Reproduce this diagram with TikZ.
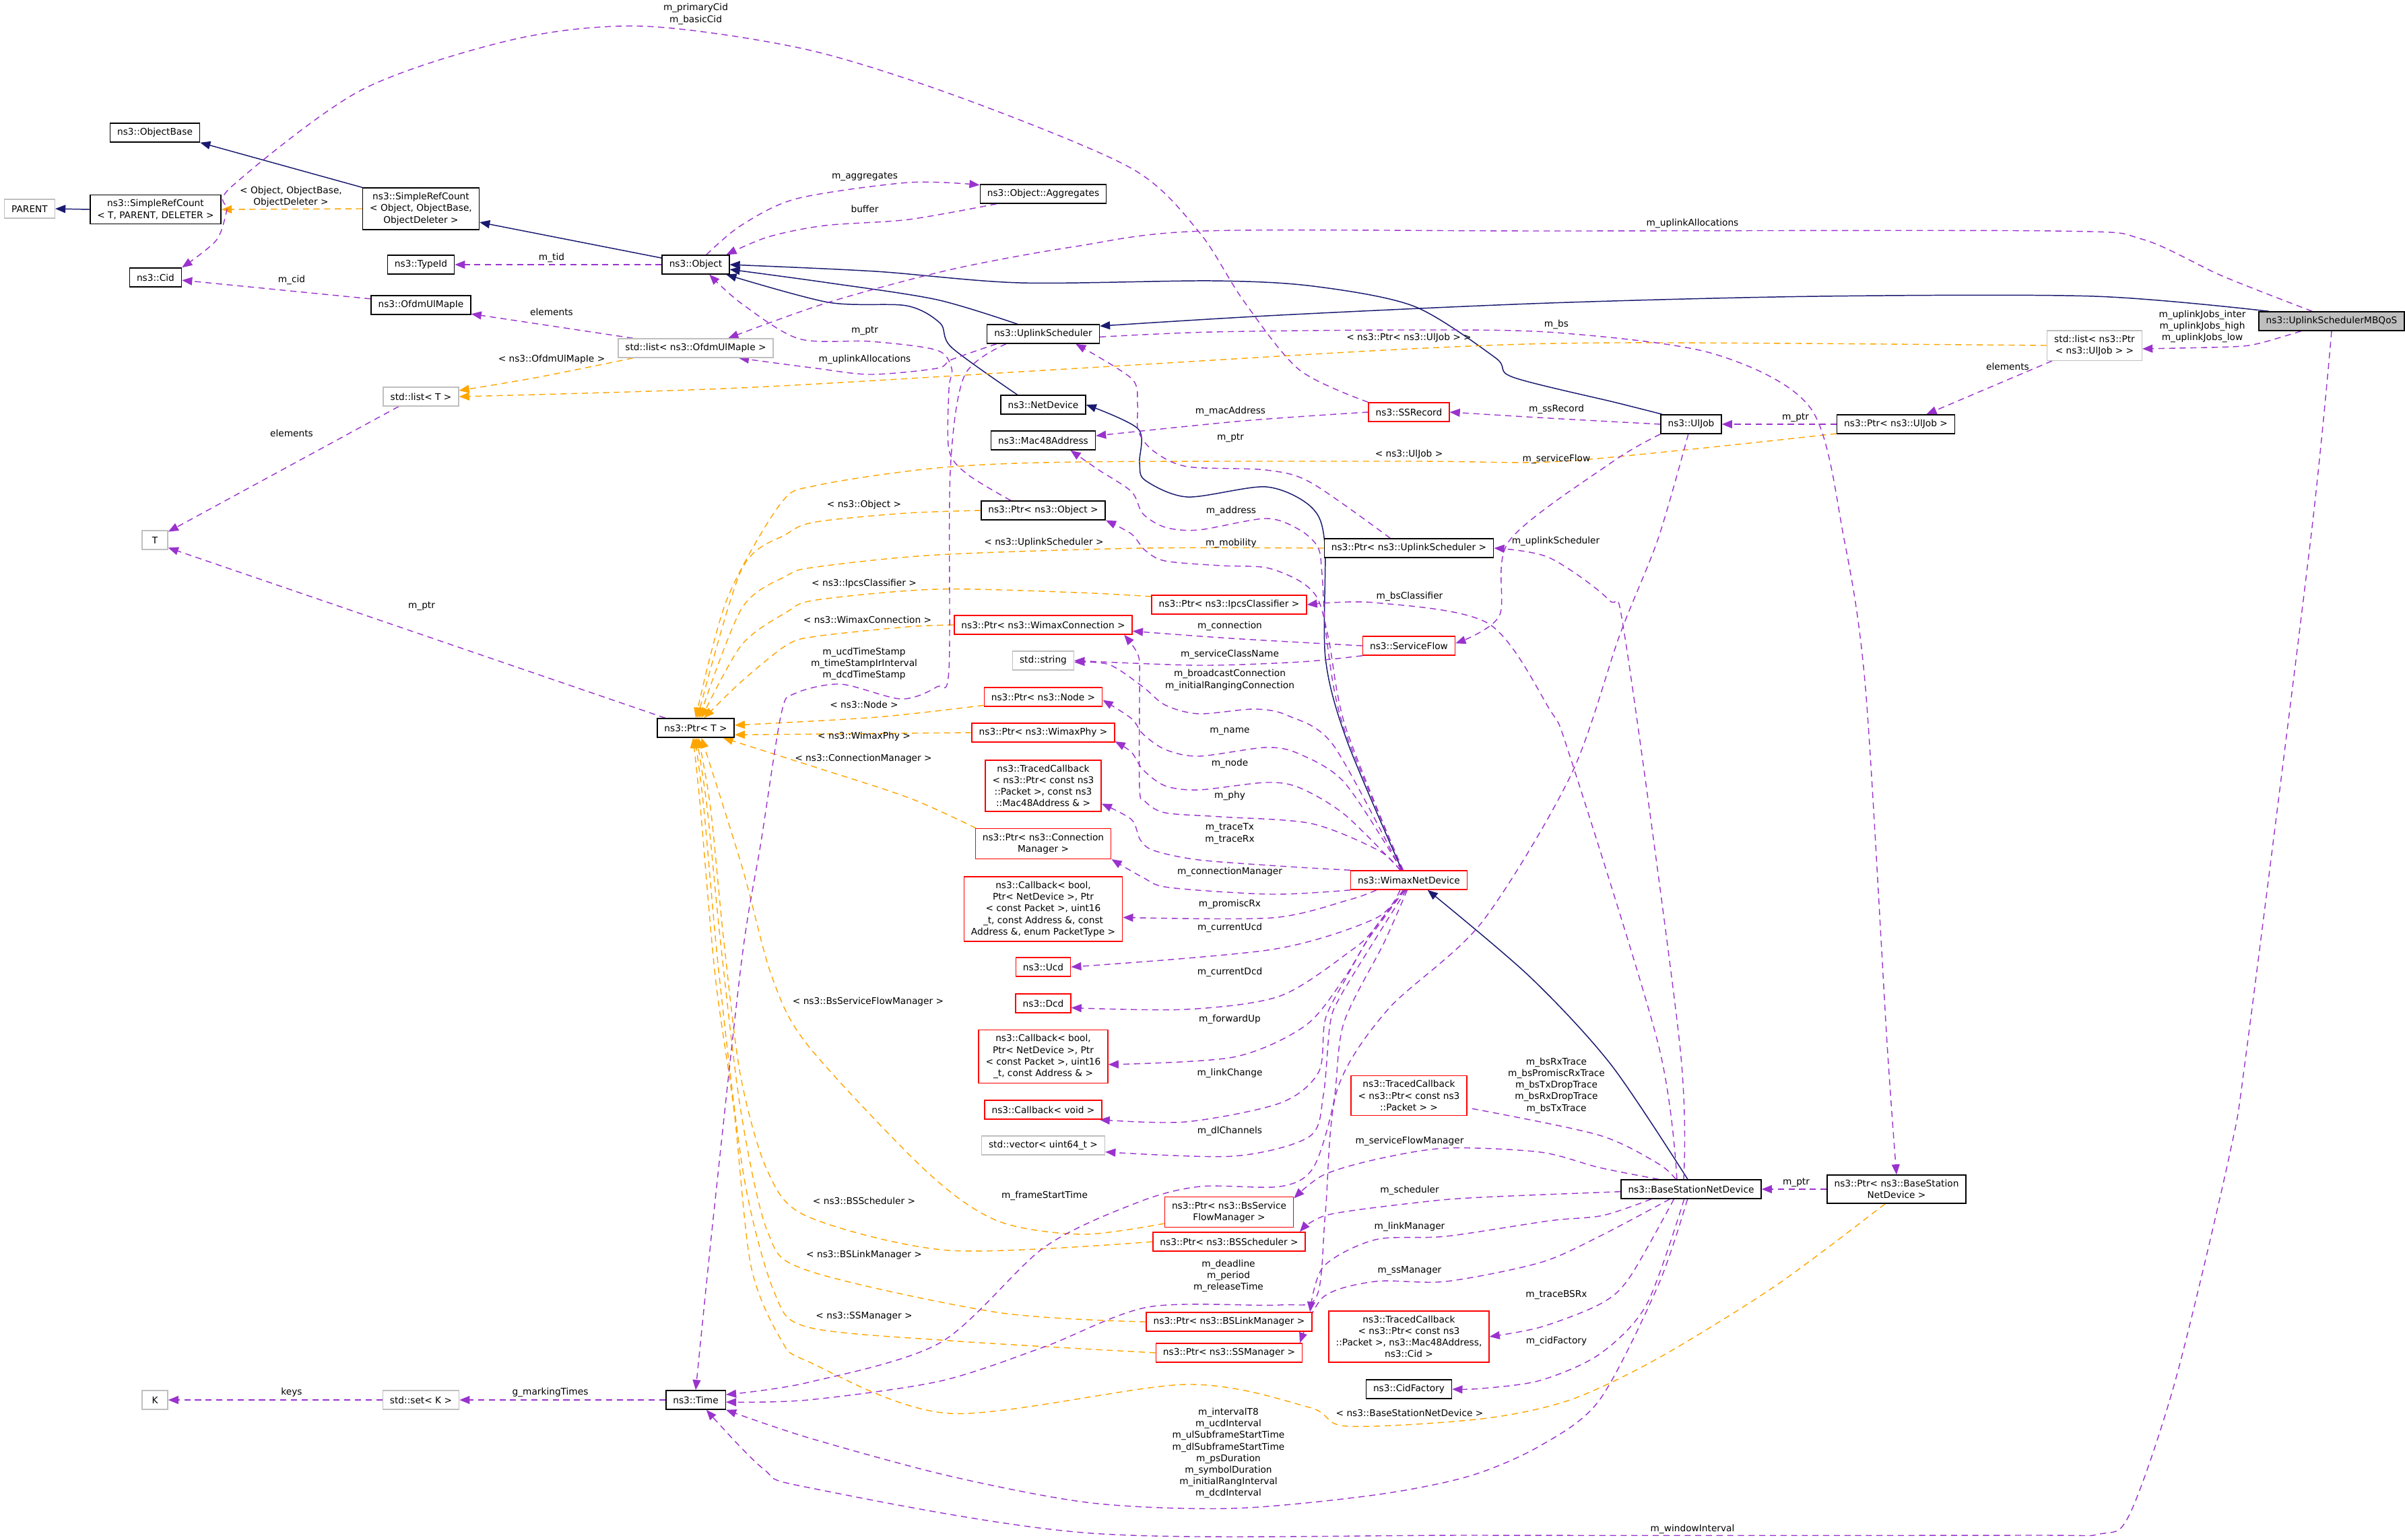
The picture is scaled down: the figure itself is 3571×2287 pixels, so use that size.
\documentclass[tikz,border=0pt]{standalone}
\usepackage{fontspec}
\usepackage{tikz}
\usetikzlibrary{arrows.meta,backgrounds}
\newfontfamily\dxfont{DejaVu Sans}
\newcommand{\dxsize}{\fontsize{3.9}{4.9}\selectfont}
\definecolor{usepurple}{HTML}{9A32CD}
\definecolor{tplorange}{HTML}{FFA500}
\definecolor{inhblue}{HTML}{191970}
\definecolor{boxgray}{HTML}{BFBFBF}
\definecolor{boxred}{HTML}{FF0000}

\begin{document}
\begin{tikzpicture}[x=0.01cm, y=-0.01cm, font=\dxfont\dxsize,
  cls/.style={draw=black, fill=white, line width=0.42pt, inner xsep=3pt, inner ysep=2pt, minimum height=0.28cm, align=center},
  extcls/.style={cls, draw=boxgray},
  redcls/.style={cls, draw=boxred},
  maincls/.style={cls, fill=boxgray},
  lbl/.style={inner sep=0pt, align=center},
  inherit/.style={draw=inhblue, line width=0.42pt, -{Triangle[length=4.3pt,width=3.4pt]}},
  member/.style={draw=usepurple, line width=0.4pt, dash pattern=on 2.6pt off 1.9pt, -{Triangle[length=4.3pt,width=3.4pt]}},
  templ/.style={member, draw=tplorange}]

\useasboundingbox (0,0) rectangle (3571,2287);

% ==================== CLASS NODES ====================

% left part
\node[extcls] (parent) at (44,310) {PARENT};
\node[cls] (srcT) at (231,311) {ns3::SimpleRefCount\\< T, PARENT, DELETER >};
\node[cls] (objBase) at (230,197) {ns3::ObjectBase};
\node[cls] (srcObj) at (625,310) {ns3::SimpleRefCount\\< Object, ObjectBase,\\ObjectDeleter >};
\node[cls] (cid) at (231,412) {ns3::Cid};
\node[cls] (typeId) at (625,393) {ns3::TypeId};
\node[cls] (object) at (1033,393) {ns3::Object};
\node[cls] (ofdm) at (625,453) {ns3::OfdmUlMapIe};
\node[extcls] (listOfdm) at (1033,517) {std::list< ns3::OfdmUlMapIe >};
\node[extcls] (listT) at (625,589) {std::list< T >};
\node[extcls, minimum width=0.38cm] (tT) at (230,802) {T};
\node[cls] (ptrT) at (1033,1081) {ns3::Ptr< T >};
\node[extcls, minimum width=0.38cm] (kK) at (230,2079) {K};
\node[extcls] (setK) at (625,2079) {std::set< K >};
\node[cls] (time) at (1033,2079) {ns3::Time};

% middle column
\node[cls] (aggr) at (1549,288) {ns3::Object::Aggregates};
\node[cls] (upSched) at (1549,496) {ns3::UplinkScheduler};
\node[cls] (netDev) at (1549,601) {ns3::NetDevice};
\node[cls] (mac) at (1549,654) {ns3::Mac48Address};
\node[cls] (ptrObj) at (1549,758) {ns3::Ptr< ns3::Object >};
\node[redcls] (ptrConn) at (1549,928) {ns3::Ptr< ns3::WimaxConnection >};
\node[extcls] (str) at (1549,981) {std::string};
\node[redcls] (ptrNode) at (1549,1035) {ns3::Ptr< ns3::Node >};
\node[redcls] (ptrPhy) at (1549,1088) {ns3::Ptr< ns3::WimaxPhy >};
\node[redcls] (tcMac) at (1549,1167) {ns3::TracedCallback\\< ns3::Ptr< const ns3\\::Packet >, const ns3\\::Mac48Address \& >};
\node[redcls] (ptrCm) at (1549,1253) {ns3::Ptr< ns3::Connection\\Manager >};
\node[redcls] (cbPromisc) at (1549,1350) {ns3::Callback< bool,\\ Ptr< NetDevice >, Ptr\\< const Packet >, uint16\\\_t, const Address \&, const\\ Address \&, enum PacketType >};
\node[redcls] (ucd) at (1549,1436) {ns3::Ucd};
\node[redcls] (dcd) at (1549,1490) {ns3::Dcd};
\node[redcls] (cbFwd) at (1549,1569) {ns3::Callback< bool,\\ Ptr< NetDevice >, Ptr\\< const Packet >, uint16\\\_t, const Address \& >};
\node[redcls] (cbVoid) at (1549,1648) {ns3::Callback< void >};
\node[extcls] (vec) at (1549,1701) {std::vector< uint64\_t >};

\node[redcls] (ptrIpcs) at (1825,898) {ns3::Ptr< ns3::IpcsClassifier >};
\node[redcls] (ptrBsSfm) at (1825,1800) {ns3::Ptr< ns3::BsService\\FlowManager >};
\node[redcls] (ptrBsSched) at (1825,1844) {ns3::Ptr< ns3::BSScheduler >};
\node[redcls] (ptrBsLm) at (1825,1963) {ns3::Ptr< ns3::BSLinkManager >};
\node[redcls] (ptrSsm) at (1825,2009) {ns3::Ptr< ns3::SSManager >};

\node[redcls] (ssRec) at (2092,612) {ns3::SSRecord};
\node[cls] (ptrUpSched) at (2092,814) {ns3::Ptr< ns3::UplinkScheduler >};
\node[redcls] (sFlow) at (2092,959) {ns3::ServiceFlow};
\node[redcls] (wimaxDev) at (2092,1307) {ns3::WimaxNetDevice};
\node[redcls] (tcPkt) at (2092,1627) {ns3::TracedCallback\\< ns3::Ptr< const ns3\\::Packet > >};
\node[redcls] (tcCid) at (2092,1985) {ns3::TracedCallback\\< ns3::Ptr< const ns3\\::Packet >, ns3::Mac48Address,\\ns3::Cid >};
\node[cls] (cidFac) at (2092,2063) {ns3::CidFactory};

% right part
\node[cls] (ulJob) at (2511,630) {ns3::UlJob};
\node[cls] (bsDev) at (2511,1766) {ns3::BaseStationNetDevice};
\node[cls] (ptrUlJob) at (2815,630) {ns3::Ptr< ns3::UlJob >};
\node[cls] (ptrBsDev) at (2816,1766) {ns3::Ptr< ns3::BaseStation\\NetDevice >};
\node[extcls] (listUlJob) at (3110,513) {std::list< ns3::Ptr\\< ns3::UlJob > >};
\node[maincls] (mbqos) at (3462,477) {ns3::UplinkSchedulerMBQoS};

% ==================== EDGES ====================
\begin{scope}[on background layer]
    % inheritance
    \draw[inherit] (srcT.west) -- (parent.east);
    \draw[inherit] (srcObj.north west) -- (objBase.south east);
    \draw[inherit] (object.169) -- (srcObj.-13);
    \draw[inherit] plot[smooth] coordinates {(upSched.159) (1391,445) (1230,420) (object.-8)};
    \draw[inherit] plot[smooth] coordinates {(netDev.159) (1413,516) (1396,480) (1346,454) (1230,449) (object.-18)};
    \draw[inherit] plot[smooth] coordinates {(ulJob.161) (2400,598) (2246,560) (2220,531) (2100,455) (1950,425) (1800,417) (1515,420) (1300,403) (object.east)};
    \draw[inherit] plot[smooth] coordinates {(mbqos.171) (3110,440) (2700,440) (2300,450) (1900,468) (upSched.8)};
    \draw[inherit] plot[smooth] coordinates {(wimaxDev.125) (2000,1100) (1968,977) (1967,807) (1947,753) (1880,723) (1763,738) (1700,713) (1692,687) (1690,637) (netDev.east)};
    \draw[inherit] plot[smooth] coordinates {(bsDev.109) (2392,1581) (2271,1450) (wimaxDev.-28)};

    % template instances
    \draw[templ] (srcObj.west) -- (srcT.east);
    \draw[templ] plot[smooth] coordinates {(listOfdm.-171) (800,560) (listT.9)};
    \draw[templ] plot[smooth] coordinates {(listUlJob.west) (2400,509) (2095,518) (1600,547) (1100,576) (listT.east)};
    \draw[templ] plot[smooth] coordinates {(ptrUlJob.-171) (2503,668) (2300,686) (2095,685) (1600,686) (1391,695) (1212,721) (1159,748) (1079,891) (ptrT.north)};
    \draw[templ] plot[smooth] coordinates {(ptrObj.west) (1346,762) (1212,775) (1168,793) (1101,846) (ptrT.80)};
    \draw[templ] plot[smooth] coordinates {(ptrUpSched.west) (1697,814) (1391,824) (1212,842) (1168,855) (1101,904) (ptrT.70)};
    \draw[templ] plot[smooth] coordinates {(ptrIpcs.174) (1600,880) (1391,875) (1212,891) (1168,909) (1101,958) (ptrT.60)};
    \draw[templ] plot[smooth] coordinates {(ptrConn.west) (1346,931) (1212,945) (1168,958) (1101,1012) (ptrT.50)};
    \draw[templ] plot[smooth] coordinates {(ptrNode.-172) (1302,1065) (ptrT.4)};
    \draw[templ] (ptrPhy.west) -- (ptrT.-10);
    \draw[templ] plot[smooth] coordinates {(ptrCm.167) (1350,1185) (1200,1136) (ptrT.-20)};
    \draw[templ] plot[smooth] coordinates {(ptrBsSfm.-170) (1607,1833) (1481,1813) (1375,1739) (1200,1553) (1146,1450) (1102,1288) (ptrT.-60)};
    \draw[templ] plot[smooth] coordinates {(ptrBsSched.west) (1410,1857) (1200,1807) (1140,1740) (1100,1600) (1075,1400) (1055,1200) (ptrT.-75)};
    \draw[templ] plot[smooth] coordinates {(ptrBsLm.west) (1481,1949) (1200,1887) (1140,1830) (1100,1650) (1070,1400) (1050,1200) (ptrT.-85)};
    \draw[templ] plot[smooth] coordinates {(ptrSsm.west) (1410,1991) (1200,1971) (1150,1920) (1105,1750) (1068,1450) (1045,1200) (ptrT.-95)};
    \draw[templ] plot[smooth] coordinates {(ptrBsDev.-128) (2637,1909) (2462,2017) (2331,2079) (2200,2107) (2000,2118) (1944,2090) (1761,2056) (1410,2099) (1200,2022) (1160,1990) (1115,1880) (1090,1650) (1062,1450) (1040,1200) (ptrT.-105)};

    % members, left and middle
    \draw[member] plot[smooth] coordinates {(ssRec.north west) (1929,549) (1846,446) (1780,344) (1680,250) (1432,147) (1200,74) (957,39) (765,58) (536,134) (344,277) (337,312) (321,357) (cid.north east)};
    \draw[member] (ofdm.173) -- (cid.-6);
    \draw[member] (object.west) -- (typeId.east);
    \draw[member] plot[smooth] coordinates {(object.43) (1100,335) (1183,295) (1349,271) (aggr.172)};
    \draw[member] plot[smooth] coordinates {(aggr.-168) (1349,326) (1224,335) (1140,352) (object.18)};
    \draw[member] (listOfdm.171) -- (ofdm.-10);
    \draw[member] (listT.-156) -- (tT.32);
    \draw[member] (ptrT.162) -- (tT.-30);
    \draw[member] (setK.west) -- (kK.east);
    \draw[member] (time.west) -- (setK.east);
    \draw[member] plot[smooth] coordinates {(mbqos.153) (3300,410) (3180,355) (3050,343) (2300,343) (1788,343) (1597,366) (1413,400) (1230,449) (listOfdm.17)};
    \draw[member] plot[smooth] coordinates {(upSched.-168) (1413,534) (1391,547) (1293,556) (1212,547) (listOfdm.-13)};
    \draw[member] plot[smooth] coordinates {(ptrObj.163) (1436,704) (1409,668) (1409,578) (1413,547) (1391,520) (1293,507) (1186,503) (1100,450) (object.-36)};
    \draw[member] plot[smooth] coordinates {(upSched.-165) (1432,558) (1411,700) (1409,994) (1391,1020) (1338,1038) (1248,1016) (1180,1030) (1160,1060) (1130,1250) (1102,1420) (1060,1800) (time.north)};
    \draw[member] plot[smooth] coordinates {(ulJob.west) (2300,621) (ssRec.east)};
    \draw[member] plot[smooth] coordinates {(ssRec.west) (1846,625) (mac.5)};
    \draw[member] plot[smooth] coordinates {(ptrUpSched.152) (1947,717) (1880,698) (1763,693) (1713,670) (1690,640) (1689,600) (1680,562) (upSched.-17)};
    \draw[member] plot[smooth] coordinates {(sFlow.west) (1828,948) (ptrConn.-4)};
    \draw[member] plot[smooth] coordinates {(sFlow.south west) (1930,983) (1780,988) (str.east)};

    % members, right part
    \draw[member] plot[smooth] coordinates {(mbqos.-162) (3354,510) (3313,515) (listUlJob.-4)};
    \draw[member] (listUlJob.-160) -- (ptrUlJob.18);
    \draw[member] (ptrUlJob.west) -- (ulJob.east);
    \draw[member] plot[smooth] coordinates {(ulJob.south west) (2394,686) (2241,803) (2226,915) (sFlow.3)};
    \draw[member] plot[smooth] coordinates {(ulJob.-106) (2462,800) (2405,943) (2333,1150) (2200,1370) (2060,1500) (1985,1620) (1968,1800) (1955,1925) (1900,1938) (1705,1941) (1551,2000) (1396,2051) (1200,2079) (time.-4)};
    \draw[member] plot[smooth] coordinates {(upSched.-3) (1800,493) (2095,490) (2311,494) (2543,525) (2689,607) (2738,800) (2770,1023) (2802,1550) (ptrBsDev.north)};
    \draw[member] plot[smooth] coordinates {(mbqos.south) (3431,800) (3337,1550) (3310,1717) (3230,2050) (3162,2249) (3118,2278) (3000,2280) (2200,2280) (1621,2277) (1200,2209) (1133,2181) (time.-43)};
    \draw[member] (ptrBsDev.west) -- (bsDev.east);
    \draw[member] plot[smooth] coordinates {(bsDev.127) (2494,1550) (2413,948) (2389,891) (2300,828) (ptrUpSched.east)};
    \draw[member] plot[smooth] coordinates {(bsDev.145) (2462,1550) (2332,1126) (2300,1052) (2210,926) (2042,895) (ptrIpcs.east)};

    % members of ns3::WimaxNetDevice
    \draw[member] plot[smooth] coordinates {(wimaxDev.120) (1995,1080) (1970,950) (1963,853) (1957,813) (1930,787) (1880,770) (1780,787) (1730,783) (1697,763) (1680,730) (1630,697) (mac.-20)};
    \draw[member] plot[smooth] coordinates {(wimaxDev.122) (1998,1080) (1973,950) (1957,890) (1930,863) (1880,843) (1813,840) (1730,833) (1700,817) (1680,793) (ptrObj.-9)};
    \draw[member] plot[smooth] coordinates {(wimaxDev.132) (2047,1263) (1947,1223) (1813,1213) (1730,1207) (1700,1190) (1692,1170) (1692,1013) (1690,973) (ptrConn.-7)};
    \draw[member] plot[smooth] coordinates {(wimaxDev.128) (1980,1107) (1913,1063) (1863,1053) (1780,1060) (1730,1047) (1697,1020) (1647,987) (str.-3)};
    \draw[member] plot[smooth] coordinates {(wimaxDev.126) (1997,1163) (1930,1120) (1880,1110) (1780,1123) (1730,1113) (1697,1090) (1680,1067) (ptrNode.-3)};
    \draw[member] plot[smooth] coordinates {(wimaxDev.130) (1997,1210) (1930,1170) (1880,1162) (1780,1173) (1730,1167) (1697,1143) (1680,1117) (ptrPhy.-7)};
    \draw[member] plot[smooth] coordinates {(wimaxDev.north west) (1913,1287) (1780,1277) (1713,1263) (1693,1247) (1680,1217) (tcMac.-17)};
    \draw[member] plot[smooth] coordinates {(wimaxDev.south west) (1889,1328) (1736,1318) (1697,1303) (ptrCm.south east)};
    \draw[member] plot[smooth] coordinates {(wimaxDev.-163) (2004,1336) (1889,1363) (cbPromisc.-6)};
    \draw[member] plot[smooth] coordinates {(wimaxDev.-132) (2042,1364) (1889,1410) (ucd.east)};
    \draw[member] plot[smooth] coordinates {(wimaxDev.-120) (2040,1380) (2007,1411) (1901,1479) (1761,1499) (dcd.-9)};
    \draw[member] plot[smooth] coordinates {(wimaxDev.-115) (2050,1370) (2028,1400) (1993,1457) (1937,1524) (1831,1570) (cbFwd.-7)};
    \draw[member] plot[smooth] coordinates {(wimaxDev.-110) (2040,1380) (2000,1450) (1968,1513) (1958,1592) (1901,1638) (1761,1666) (cbVoid.-10)};
    \draw[member] plot[smooth] coordinates {(wimaxDev.-105) (2045,1390) (1990,1480) (1975,1520) (1965,1626) (1944,1688) (1831,1717) (vec.-6)};
    \draw[member] plot[smooth] coordinates {(wimaxDev.-100) (2055,1400) (1995,1520) (1980,1638) (1950,1734) (1901,1762) (1782,1762) (1691,1785) (1551,1852) (1396,1994) (1200,2053) (time.10)};

    % members of ns3::BaseStationNetDevice
    \draw[member] plot[smooth] coordinates {(bsDev.147) (2462,1728) (2375,1686) (2200,1649) (tcPkt.-13)};
    \draw[member] plot[smooth] coordinates {(bsDev.163) (2375,1734) (2287,1711) (2147,1705) (2042,1722) (1965,1745) (ptrBsSfm.12)};
    \draw[member] plot[smooth] coordinates {(bsDev.-178) (2200,1778) (2112,1785) (1972,1804) (ptrBsSched.8)};
    \draw[member] plot[smooth] coordinates {(bsDev.-166) (2380,1805) (2300,1813) (2147,1836) (2042,1841) (1965,1881) (ptrBsLm.7)};
    \draw[member] plot[smooth] coordinates {(bsDev.-155) (2375,1836) (2287,1875) (2147,1903) (2042,1903) (1965,1926) (ptrSsm.8)};
    \draw[member] plot[smooth] coordinates {(bsDev.-150) (2419,1898) (2375,1937) (2287,1971) (tcCid.east)};
    \draw[member] plot[smooth] coordinates {(bsDev.-125) (2445,1937) (2375,2011) (2287,2050) (2200,2062) (cidFac.east)};
    \draw[member] plot[smooth] coordinates {(bsDev.-110) (2462,1909) (2375,2079) (2287,2147) (2182,2192) (2042,2220) (1831,2240) (1621,2232) (1410,2192) (1200,2135) (time.south east)};
\end{scope}

% ==================== EDGE LABELS ====================
\node[lbl] (lSrc) at (432,292) {< Object, ObjectBase,\\ObjectDeleter >};
\node[lbl] (lCids) at (1033,21) {m\_primaryCid\\m\_basicCid};
\node[lbl] (lTid) at (819,383) {m\_tid};
\node[lbl] (lCid) at (433,416) {m\_cid};
\node[lbl] (lElOfdm) at (819,463) {elements};
\node[lbl] (lTplOfdm) at (819,534) {< ns3::OfdmUlMapIe >};
\node[lbl] (lElT) at (433,643) {elements};
\node[lbl] (lAggr) at (1284,262) {m\_aggregates};
\node[lbl] (lBuf) at (1284,310) {buffer};
\node[lbl] (lUpAllocA) at (2513,332) {m\_uplinkAllocations};
\node[lbl] (lPtrObj) at (1284,491) {m\_ptr};
\node[lbl] (lUpAllocB) at (1284,534) {m\_uplinkAllocations};
\node[lbl] (lBs) at (2311,482) {m\_bs};
\node[lbl] (lTplList) at (2092,502) {< ns3::Ptr< ns3::UlJob > >};
\node[lbl] (lJobs) at (3270,485) {m\_uplinkJobs\_inter\\m\_uplinkJobs\_high\\m\_uplinkJobs\_low};
\node[lbl] (lElJob) at (2981,544) {elements};
\node[lbl] (lPtrJob) at (2666,620) {m\_ptr};
\node[lbl] (lSsRec) at (2311,608) {m\_ssRecord};
\node[lbl] (lMacAddr) at (1827,611) {m\_macAddress};
\node[lbl] (lPtrUp) at (1827,650) {m\_ptr};
\node[lbl] (lTplJob) at (2092,675) {< ns3::UlJob >};
\node[lbl] (lSFlow) at (2311,682) {m\_serviceFlow};
\node[lbl] (lPtrT) at (626,900) {m\_ptr};
\node[lbl] (lTplObj) at (1283,750) {< ns3::Object >};
\node[lbl] (lAddr) at (1828,759) {m\_address};
\node[lbl] (lTplUp) at (1550,806) {< ns3::UplinkScheduler >};
\node[lbl] (lMob) at (1828,807) {m\_mobility};
\node[lbl] (lUpSch) at (2310,804) {m\_uplinkScheduler};
\node[lbl] (lTplIpcs) at (1283,867) {< ns3::IpcsClassifier >};
\node[lbl] (lBsCl) at (2093,886) {m\_bsClassifier};
\node[lbl] (lTplConn) at (1288,920) {< ns3::WimaxConnection >};
\node[lbl] (lConn) at (1826,930) {m\_connection};
\node[lbl] (lScName) at (1826,972) {m\_serviceClassName};
\node[lbl] (lStamps) at (1283,986) {m\_ucdTimeStamp\\m\_timeStampIrInterval\\m\_dcdTimeStamp};
\node[lbl] (lBcConn) at (1826,1010) {m\_broadcastConnection\\m\_initialRangingConnection};
\node[lbl] (lTplNode) at (1283,1046) {< ns3::Node >};
\node[lbl] (lName) at (1826,1086) {m\_name};
\node[lbl] (lTplPhy) at (1283,1094) {< ns3::WimaxPhy >};
\node[lbl] (lTplCm) at (1282,1127) {< ns3::ConnectionManager >};
\node[lbl] (lNode) at (1826,1134) {m\_node};
\node[lbl] (lPhy) at (1826,1182) {m\_phy};
\node[lbl] (lTrace) at (1826,1238) {m\_traceTx\\m\_traceRx};
\node[lbl] (lCm) at (1826,1295) {m\_connectionManager};
\node[lbl] (lPromisc) at (1826,1343) {m\_promiscRx};
\node[lbl] (lUcd) at (1826,1378) {m\_currentUcd};
\node[lbl] (lDcd) at (1826,1444) {m\_currentDcd};
\node[lbl] (lTplSfm) at (1289,1488) {< ns3::BsServiceFlowManager >};
\node[lbl] (lFwd) at (1826,1514) {m\_forwardUp};
\node[lbl] (lBsTraces) at (2311,1612) {m\_bsRxTrace\\m\_bsPromiscRxTrace\\m\_bsTxDropTrace\\m\_bsRxDropTrace\\m\_bsTxTrace};
\node[lbl] (lLink) at (1826,1594) {m\_linkChange};
\node[lbl] (lDl) at (1826,1680) {m\_dlChannels};
\node[lbl] (lSfm) at (2093,1695) {m\_serviceFlowManager};
\node[lbl] (lPtrBs) at (2667,1756) {m\_ptr};
\node[lbl] (lSched) at (2093,1768) {m\_scheduler};
\node[lbl] (lFrame) at (1551,1776) {m\_frameStartTime};
\node[lbl] (lTplSched) at (1283,1783) {< ns3::BSScheduler >};
\node[lbl] (lLm) at (2093,1822) {m\_linkManager};
\node[lbl] (lTplLm) at (1283,1864) {< ns3::BSLinkManager >};
\node[lbl] (lDeadline) at (1824,1895) {m\_deadline\\m\_period\\m\_releaseTime};
\node[lbl] (lSsm) at (2093,1887) {m\_ssManager};
\node[lbl] (lBsRx) at (2311,1923) {m\_traceBSRx};
\node[lbl] (lTplSsm) at (1283,1955) {< ns3::SSManager >};
\node[lbl] (lCidFac) at (2311,1992) {m\_cidFactory};
\node[lbl] (lKeys) at (433,2068) {keys};
\node[lbl] (lMarking) at (817,2068) {g\_markingTimes};
\node[lbl] (lTplBs) at (2093,2098) {< ns3::BaseStationNetDevice >};
\node[lbl] (lIntervals) at (1824,2158) {m\_intervalT8\\m\_ucdInterval\\m\_ulSubframeStartTime\\m\_dlSubframeStartTime\\m\_psDuration\\m\_symbolDuration\\m\_initialRangInterval\\m\_dcdInterval};
\node[lbl] (lWindow) at (2513,2271) {m\_windowInterval};

\end{tikzpicture}
\end{document}
